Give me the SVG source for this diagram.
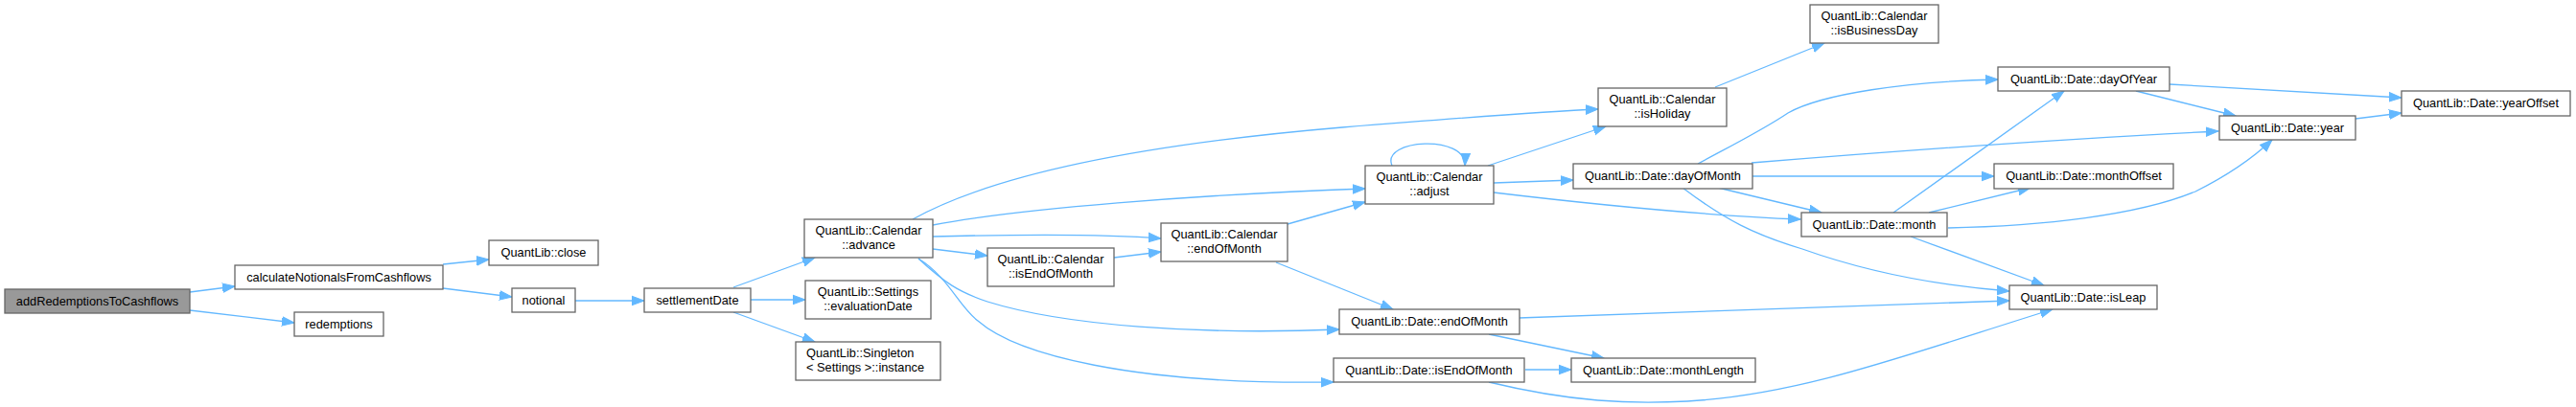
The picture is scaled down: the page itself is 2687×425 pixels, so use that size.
<svg xmlns="http://www.w3.org/2000/svg" width="2687" height="425" viewBox="0 0 2687 425">
<style>
.n rect{fill:#ffffff;stroke:#666666;stroke-width:1.3}
.n.root rect{fill:#999999}
.n text{font-family:"Liberation Sans",Arial,sans-serif;font-size:12.8px;fill:#000000;text-anchor:middle}
.n text.l{text-anchor:start}
#edges path{fill:none;stroke:#63b8ff;stroke-width:1.3;marker-end:url(#arr)}
</style>
<defs>
<marker id="arr" markerUnits="userSpaceOnUse" markerWidth="14" markerHeight="12" viewBox="0 -6 14 12" refX="13" refY="0" orient="auto">
<path d="M0,-4.8 L13,0 L0,4.8 Z" fill="#63b8ff" stroke="#63b8ff" stroke-width="1"/>
</marker>
</defs>
<rect width="2687" height="425" fill="#ffffff"/>
<g id="edges">
<path d="M198,305 L245,299"/>
<path d="M198,324 L307,337"/>
<path d="M462,276 L510,271"/>
<path d="M462,301 L534,310"/>
<path d="M600,314 L672,314"/>
<path d="M765,300 L850,269"/>
<path d="M783,313 L840,313"/>
<path d="M765,326 L850,357"/>
<path d="M952,229 C1040,180 1200,150 1400,133 C1500,125 1600,117 1667,114"/>
<path d="M973,235 C1060,218 1250,203 1424,197"/>
<path d="M973,247 C1050,245 1150,244 1211,249"/>
<path d="M973,260 L1030,267"/>
<path d="M1162,269 L1211,263"/>
<path d="M1343,234 L1424,211"/>
<path d="M1331,274 L1453,323"/>
<path d="M958,270 C985,295 1000,305 1030,315 C1110,340 1250,350 1397,344"/>
<path d="M958,270 C990,290 1000,320 1020,335 C1060,370 1180,402 1391,399"/>
<path d="M1452,173 C1440,145 1530,140 1528,173"/>
<path d="M1552,173 L1675,132"/>
<path d="M1558,191 L1641,188"/>
<path d="M1558,201 C1650,212 1780,225 1878,229"/>
<path d="M1789,91 L1903,45"/>
<path d="M1771,171 C1810,150 1840,135 1865,118 C1900,98 1990,85 2084,83"/>
<path d="M1827,170 C1950,160 2150,145 2314,137"/>
<path d="M1828,184 L2080,184"/>
<path d="M1792,196 L1900,222"/>
<path d="M1755,196 C1800,230 1830,245 1880,260 C1950,285 2020,298 2096,304"/>
<path d="M1975,222 L2153,95"/>
<path d="M2012,222 L2118,196"/>
<path d="M2032,238 C2130,236 2230,225 2290,200 C2320,185 2350,165 2370,146"/>
<path d="M1993,247 L2132,298"/>
<path d="M2263,88 L2505,102"/>
<path d="M2228,95 L2332,121"/>
<path d="M2457,124 L2505,118"/>
<path d="M1584,332 C1800,324 1950,318 2096,314"/>
<path d="M1553,349 L1673,374"/>
<path d="M1591,386 L1639,386"/>
<path d="M1553,399 C1640,420 1700,422 1760,419 C1880,412 1990,370 2141,323"/>
</g>
<g id="node-addRedemptionsToCashflows" class="n root"><rect x="5" y="302" width="193" height="25"/><text x="101.5" y="319">addRedemptionsToCashflows</text></g>
<g id="node-calculateNotionalsFromCashflows" class="n"><rect x="245" y="277" width="217" height="25"/><text x="353.5" y="294">calculateNotionalsFromCashflows</text></g>
<g id="node-close" class="n"><rect x="510" y="251" width="114" height="26"/><text x="567" y="268">QuantLib::close</text></g>
<g id="node-notional" class="n"><rect x="534" y="301" width="66" height="25"/><text x="567" y="318">notional</text></g>
<g id="node-redemptions" class="n"><rect x="307" y="326" width="93" height="25"/><text x="353.5" y="343">redemptions</text></g>
<g id="node-settlementDate" class="n"><rect x="672" y="301" width="111" height="25"/><text x="727.5" y="318">settlementDate</text></g>
<g id="node-advance" class="n"><rect x="839" y="229" width="134" height="40"/><text x="906" y="245">QuantLib::Calendar</text><text x="906" y="260">::advance</text></g>
<g id="node-evaluationDate" class="n"><rect x="840" y="293" width="131" height="40"/><text x="905.5" y="309">QuantLib::Settings</text><text x="905.5" y="324">::evaluationDate</text></g>
<g id="node-instance" class="n"><rect x="830" y="357" width="151" height="40"/><text class="l" x="841" y="373">QuantLib::Singleton</text><text class="l" x="841" y="388">&lt; Settings &gt;::instance</text></g>
<g id="node-cal-isEndOfMonth" class="n"><rect x="1030" y="259" width="132" height="40"/><text x="1096" y="275">QuantLib::Calendar</text><text x="1096" y="290">::isEndOfMonth</text></g>
<g id="node-cal-endOfMonth" class="n"><rect x="1211" y="233" width="132" height="40"/><text x="1277" y="249">QuantLib::Calendar</text><text x="1277" y="264">::endOfMonth</text></g>
<g id="node-adjust" class="n"><rect x="1424" y="173" width="134" height="40"/><text x="1491" y="189">QuantLib::Calendar</text><text x="1491" y="204">::adjust</text></g>
<g id="node-isHoliday" class="n"><rect x="1667" y="92" width="134" height="40"/><text x="1734" y="108">QuantLib::Calendar</text><text x="1734" y="123">::isHoliday</text></g>
<g id="node-isBusinessDay" class="n"><rect x="1888" y="5" width="134" height="40"/><text x="1955" y="21">QuantLib::Calendar</text><text x="1955" y="36">::isBusinessDay</text></g>
<g id="node-dayOfMonth" class="n"><rect x="1641" y="171" width="187" height="26"/><text x="1734.5" y="188">QuantLib::Date::dayOfMonth</text></g>
<g id="node-date-endOfMonth" class="n"><rect x="1397" y="323" width="188" height="26"/><text x="1491" y="340">QuantLib::Date::endOfMonth</text></g>
<g id="node-date-isEndOfMonth" class="n"><rect x="1391" y="374" width="199" height="25"/><text x="1490.5" y="391">QuantLib::Date::isEndOfMonth</text></g>
<g id="node-monthLength" class="n"><rect x="1639" y="374" width="192" height="25"/><text x="1735" y="391">QuantLib::Date::monthLength</text></g>
<g id="node-month" class="n"><rect x="1879" y="222" width="152" height="25"/><text x="1955" y="239">QuantLib::Date::month</text></g>
<g id="node-dayOfYear" class="n"><rect x="2084" y="70" width="179" height="25"/><text x="2173.5" y="87">QuantLib::Date::dayOfYear</text></g>
<g id="node-monthOffset" class="n"><rect x="2080" y="171" width="187" height="26"/><text x="2173.5" y="188">QuantLib::Date::monthOffset</text></g>
<g id="node-isLeap" class="n"><rect x="2096" y="298" width="154" height="25"/><text x="2173" y="315">QuantLib::Date::isLeap</text></g>
<g id="node-year" class="n"><rect x="2315" y="121" width="142" height="25"/><text x="2386" y="138">QuantLib::Date::year</text></g>
<g id="node-yearOffset" class="n"><rect x="2505" y="95" width="176" height="26"/><text x="2593" y="112">QuantLib::Date::yearOffset</text></g>
</svg>
